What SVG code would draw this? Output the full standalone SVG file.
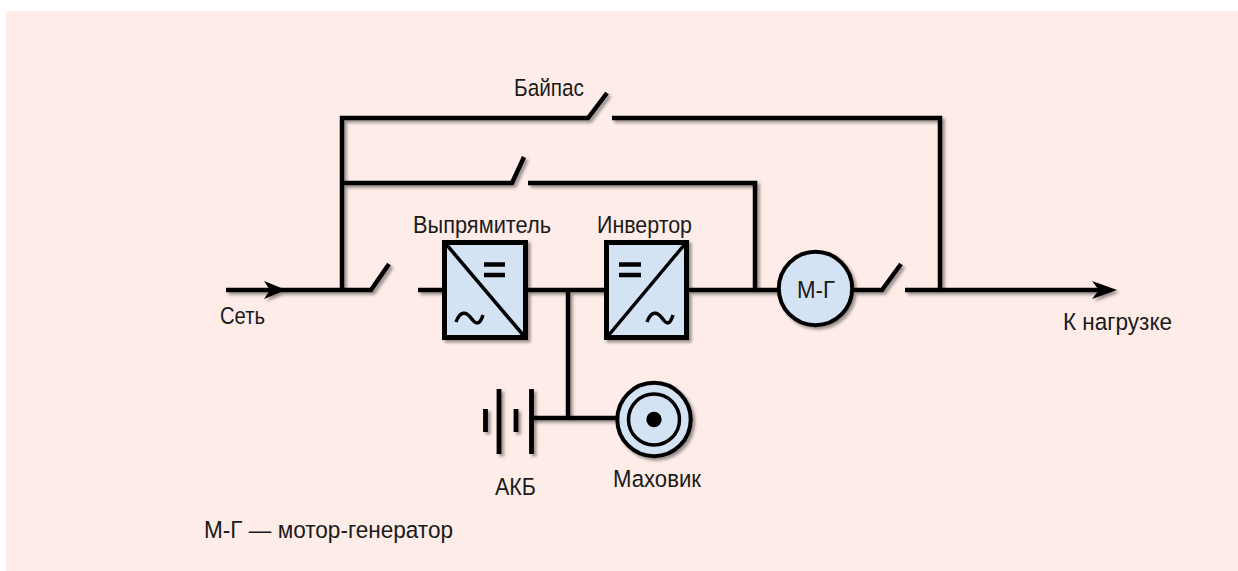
<svg xmlns="http://www.w3.org/2000/svg" width="1238" height="571" viewBox="0 0 1238 571">
<style>
.w{fill:none;stroke:#000;stroke-width:4.5;stroke-linejoin:miter}
.b{fill:#d3e3f4;stroke:#000;stroke-width:5}
.c{fill:#d3e3f4;stroke:#000;stroke-width:4}
.t{fill:none;stroke:#000;stroke-width:3.5}
.e{fill:none;stroke:#000;stroke-width:4.5}
text{font-family:"Liberation Sans",Arial,sans-serif;font-size:24.500px;fill:#1a1a1a}
</style>
<defs>
<filter id="s" x="-20%" y="-20%" width="140%" height="140%"><feDropShadow dx="2.5" dy="2.5" stdDeviation="1.6" flood-color="#000" flood-opacity=".4"/></filter>
</defs>
<rect x="0" y="0" width="1238" height="571" fill="#fff"/>
<rect x="6" y="11" width="1232" height="560" fill="#feece8"/>
<g id="connectors" filter="url(#s)">
<path class="w" d="M226 290H371L389 264"/>
<path d="M264 281L286 290L264 299L270 290Z" fill="#000"/>
<path class="w" d="M342 290V118H588L607 93"/>
<path class="w" d="M612 118H940V290"/>
<path class="w" d="M342 183H512L524 157"/>
<path class="w" d="M528 183H755V290"/>
<path class="w" d="M418 290H443"/>
<path class="w" d="M527 290H605"/>
<path class="w" d="M689 290H778"/>
<path class="w" d="M568 290V418"/>
<path class="w" d="M532 418H616"/>
<path class="w" d="M854 290H882L901 264"/>
<path class="w" d="M905 290H1105"/>
<path d="M1092 281L1117 290L1092 299L1099 290Z" fill="#000"/>
</g>
<g id="rectifier" filter="url(#s)">
<rect class="b" x="444.500" y="242.500" width="81" height="95"/>
<path class="t" d="M446 244L524 336"/>
<path class="e" d="M484 264.500H505M484 275H505"/>
<path class="t" d="M456 322C460 311 466 311 471 318C476 325 480 325 483 315"/>
</g>
<g id="inverter" filter="url(#s)">
<rect class="b" x="606.500" y="242.500" width="80" height="95"/>
<path class="t" d="M608 336L685 244"/>
<path class="e" d="M619 264.500H641M619 275H641"/>
<path class="t" d="M647 322C651 311 657 311 662 318C667 325 670 325 673 315"/>
</g>
<g id="motor-generator" filter="url(#s)">
<circle class="c" cx="815.500" cy="288.500" r="36.700"/>
</g>
<text x="797" y="298" textLength="38" lengthAdjust="spacingAndGlyphs">М-Г</text>
<g id="battery" filter="url(#s)">
<path d="M485.500 409V432M516 409V432M499 389V454M531.500 389V454" fill="none" stroke="#000" stroke-width="4.800"/>
</g>
<g id="flywheel" filter="url(#s)">
<circle class="c" cx="654" cy="419.500" r="36.700"/>
<circle class="t" cx="654" cy="419.500" r="25.500"/>
<circle cx="654" cy="419.500" r="7.700" fill="#000"/>
</g>
<g id="labels">
<text x="597" y="233" textLength="95" lengthAdjust="spacingAndGlyphs">Инвертор</text>
<text x="413" y="233" textLength="138" lengthAdjust="spacingAndGlyphs">Выпрямитель</text>
<text x="514" y="96" textLength="70" lengthAdjust="spacingAndGlyphs">Байпас</text>
<text x="220" y="324" textLength="45" lengthAdjust="spacingAndGlyphs">Сеть</text>
<text x="1063" y="330" textLength="109" lengthAdjust="spacingAndGlyphs">К нагрузке</text>
<text x="495" y="495" textLength="41" lengthAdjust="spacingAndGlyphs">АКБ</text>
<text x="613" y="487" textLength="88" lengthAdjust="spacingAndGlyphs">Маховик</text>
<text x="204" y="538" textLength="249" lengthAdjust="spacingAndGlyphs">М-Г — мотор-генератор</text>
</g>
</svg>
